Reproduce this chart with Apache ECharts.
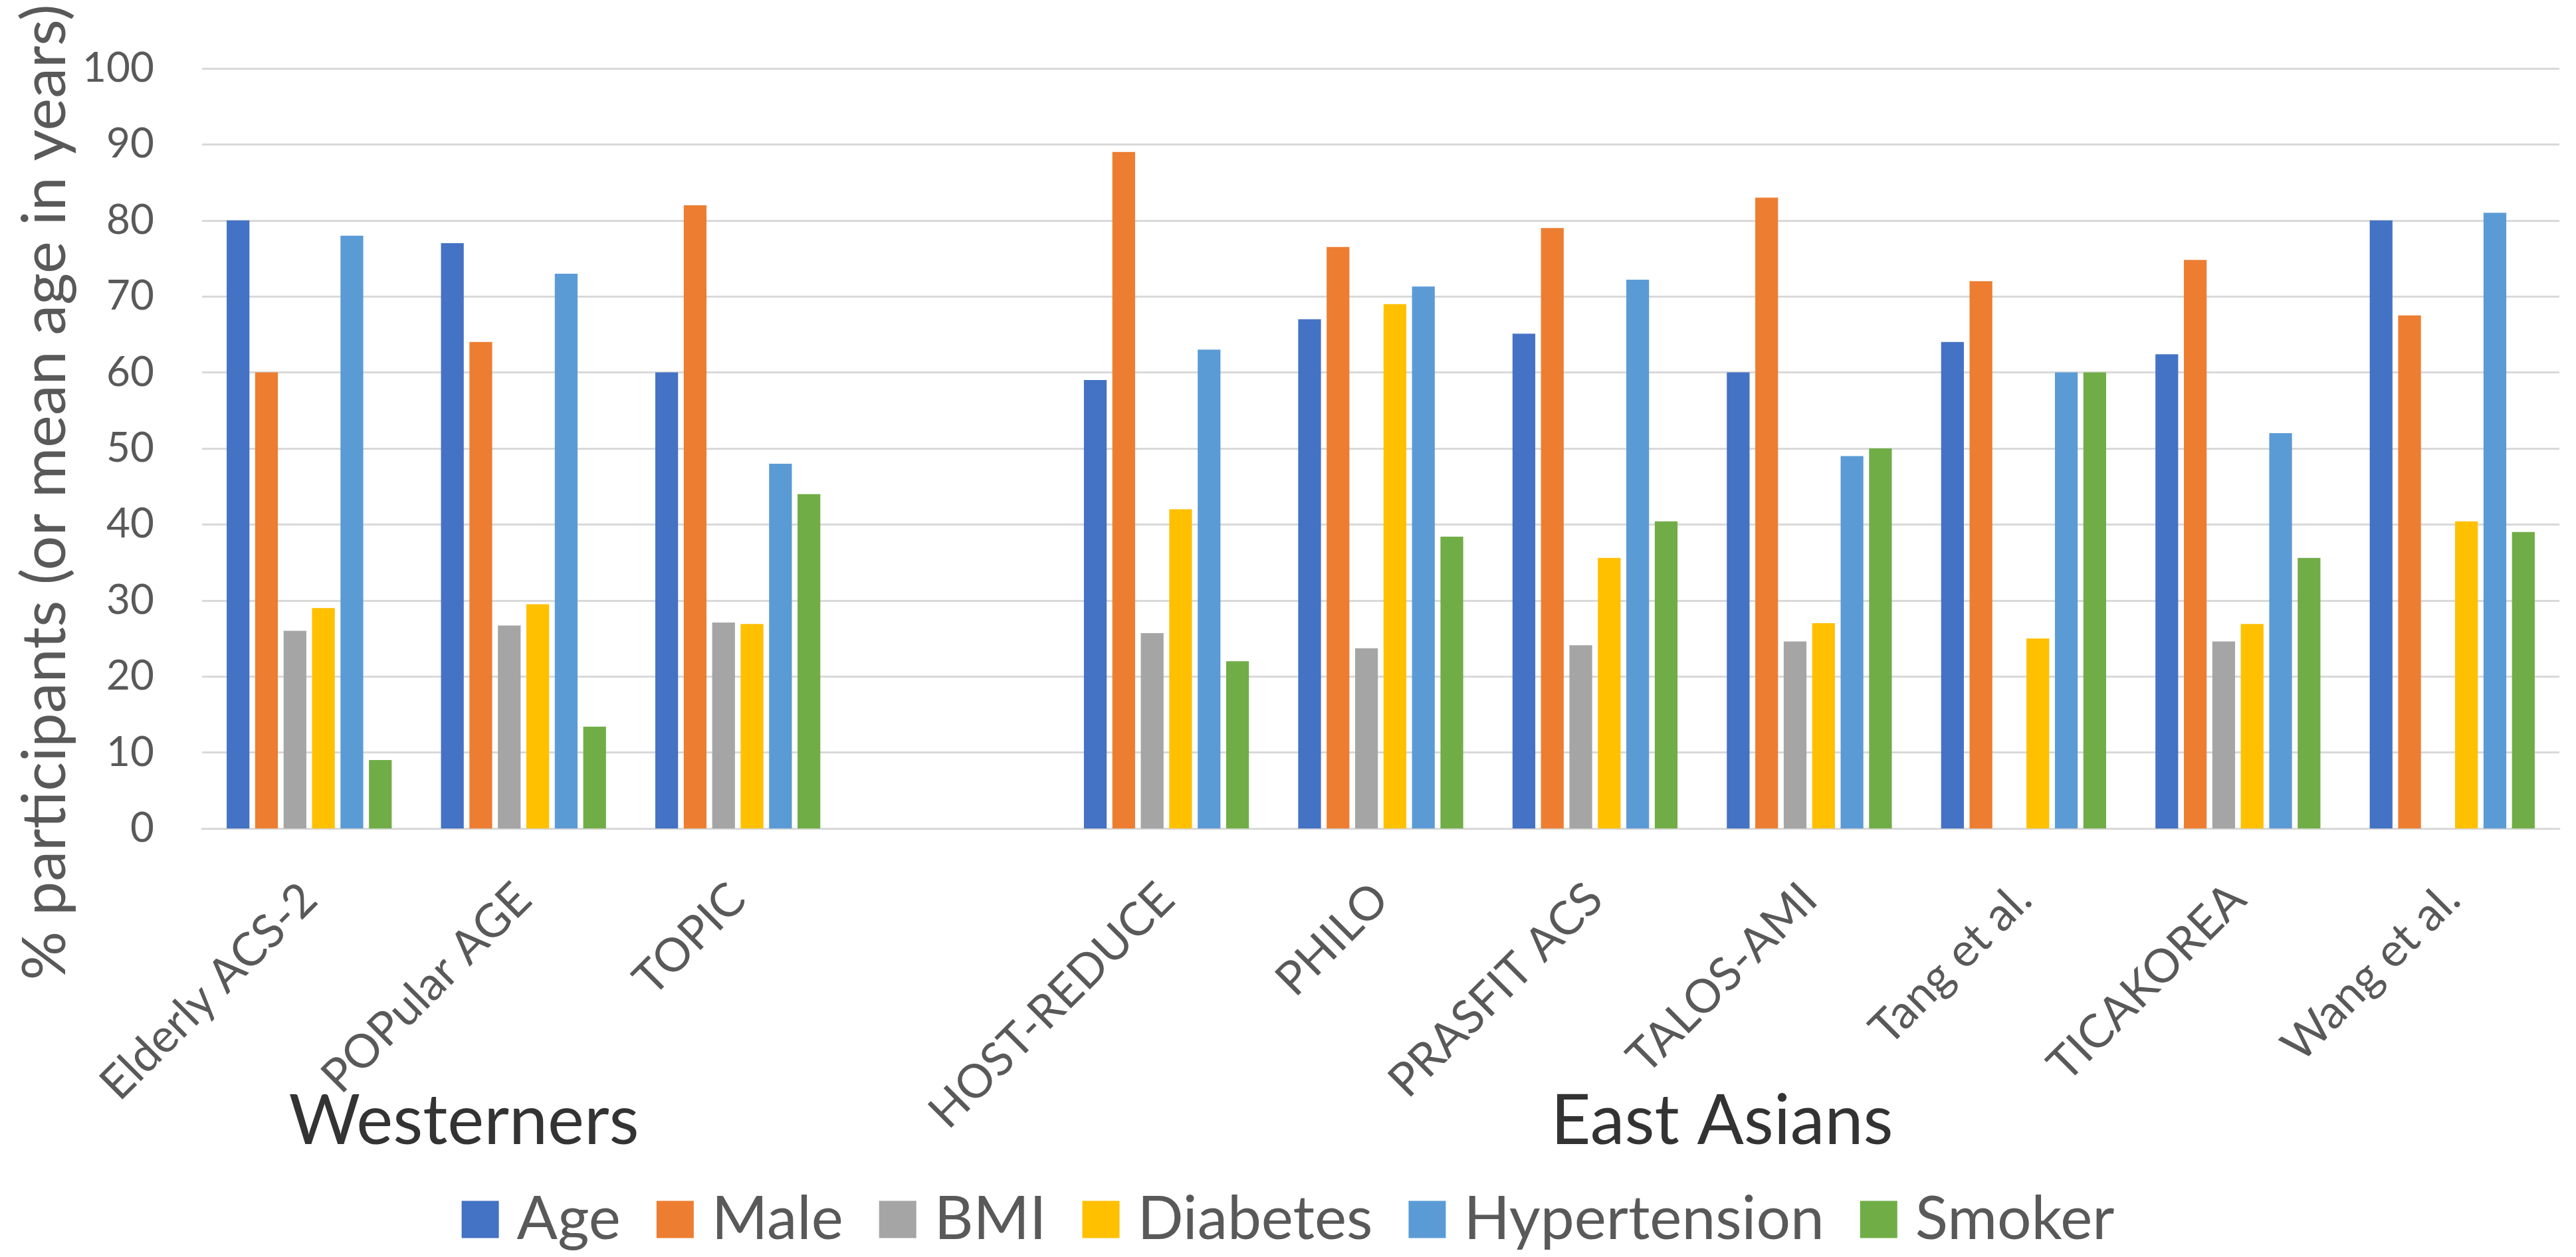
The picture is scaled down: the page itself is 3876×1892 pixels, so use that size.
<!DOCTYPE html>
<html>
<head>
<meta charset="utf-8">
<script src="https://cdn.jsdelivr.net/npm/echarts@6/dist/echarts.min.js"></script>
<style>
  html, body { margin: 0; padding: 0; background: #ffffff; }
  #chart { width: 3876px; height: 1892px; }
</style>
</head>
<body>
<div id="chart"></div>
<script>
// Trials (blank slot separates the two population groups)
const categories = ['Elderly ACS-2', 'POPular AGE', 'TOPIC', '', 'HOST-REDUCE', 'PHILO',
  'PRASFIT ACS', 'TALOS-AMI', 'Tang et al.', 'TICAKOREA', 'Wang et al.'];

const seriesNames = ['Age', 'Male', 'BMI', 'Diabetes', 'Hypertension', 'Smoker'];

const age          = [80, 77, 60, null, 59, 67, 65.1, 60, 64, 62.4, 80];
const male         = [60, 64, 82, null, 89, 76.5, 79, 83, 72, 74.8, 67.5];
const bmi          = [26, 26.7, 27.1, null, 25.7, 23.7, 24.1, 24.6, null, 24.6, null];
const diabetes     = [29, 29.5, 26.9, null, 42, 69, 35.6, 27, 25, 26.9, 40.4];
const hypertension = [78, 73, 48, null, 63, 71.3, 72.2, 49, 60, 52, 81];
const smoker       = [9, 13.4, 44, null, 22, 38.4, 40.4, 50, 60, 35.6, 39];

const yTicks = { min: 0, max: 100, interval: 10 };
const groupLabels = ['Westerners', 'East Asians'];
const yTitle = '% participants (or mean age in years)';

const colors = ['#4472C4', '#ED7D31', '#A5A5A5', '#FFC000', '#5B9BD5', '#70AD47'];
const values = [age, male, bmi, diabetes, hypertension, smoker];

const FONT = 'Lato, "Open Sans", sans-serif';

const chart = echarts.init(document.getElementById('chart'), null, { renderer: 'canvas' });

chart.setOption({
  backgroundColor: '#ffffff',
  animation: false,
  color: colors,
  grid: { left: 304, right: 25, top: 103, bottom: 645, containLabel: false },
  legend: {
    data: seriesNames,
    top: 1785,
    left: 'center',
    icon: 'rect',
    itemWidth: 56,
    itemHeight: 56,
    itemGap: 54,
    textStyle: { fontFamily: FONT, fontSize: 91, color: '#595959', padding: [0, 0, 0, 22] }
  },
  xAxis: {
    type: 'category',
    data: categories,
    axisLine: { show: true, lineStyle: { color: '#d9d9d9', width: 3 } },
    axisTick: { show: false },
    axisLabel: {
      interval: 0,
      rotate: 45,
      margin: 95,
      fontFamily: FONT,
      fontSize: 70,
      color: '#595959'
    }
  },
  yAxis: {
    type: 'value',
    min: yTicks.min,
    max: yTicks.max,
    interval: yTicks.interval,
    axisLine: { show: false },
    axisTick: { show: false },
    splitLine: { lineStyle: { color: '#d9d9d9', width: 3 } },
    axisLabel: { margin: 72, fontFamily: FONT, fontSize: 62, color: '#595959' }
  },
  graphic: [
    {
      type: 'text',
      x: 68, y: 741,
      rotation: Math.PI / 2,
      style: {
        text: yTitle, fontFamily: FONT, fontSize: 92, fill: '#595959',
        textAlign: 'center', textVerticalAlign: 'middle'
      }
    },
    {
      type: 'text',
      x: 698, y: 1688,
      style: {
        text: groupLabels[0], fontFamily: FONT, fontSize: 104, fill: '#333333',
        textAlign: 'center', textVerticalAlign: 'middle'
      }
    },
    {
      type: 'text',
      x: 2591, y: 1688,
      style: {
        text: groupLabels[1], fontFamily: FONT, fontSize: 104, fill: '#333333',
        textAlign: 'center', textVerticalAlign: 'middle'
      }
    }
  ],
  series: seriesNames.map((name, i) => ({
    name: name,
    type: 'bar',
    data: values[i],
    barCategoryGap: '23%',
    barGap: '25%',
    itemStyle: { color: colors[i] }
  }))
});
</script>
</body>
</html>
